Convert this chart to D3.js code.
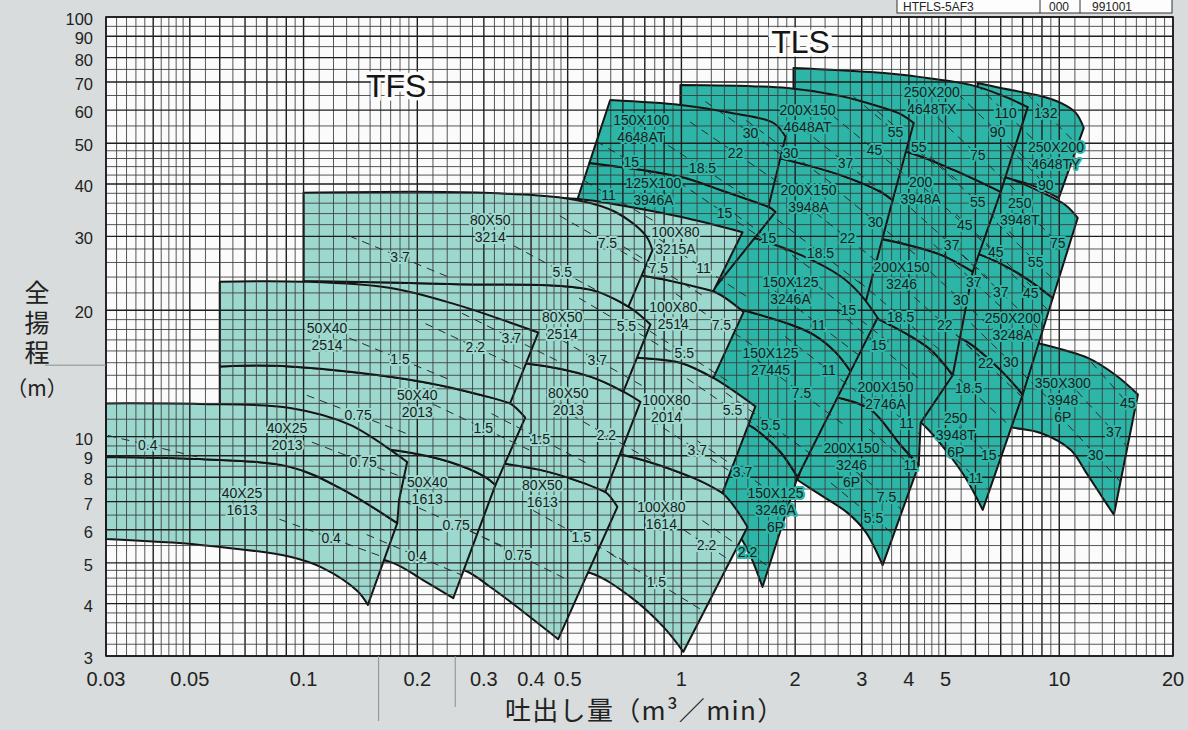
<!DOCTYPE html>
<html><head><meta charset="utf-8">
<script src="https://cdn.jsdelivr.net/npm/d3@7"></script>
<style>
body{margin:0;background:#d8dcdc;}
svg{display:block;font-family:"Liberation Sans",Arial,sans-serif;}
</style></head><body>
<svg id="c" width="1188" height="730"></svg>
<script>
// ---------- DATA ----------
const xTicks = [0.03,0.05,0.1,0.2,0.3,0.4,0.5,1,2,3,4,5,10,20];
const yTicks = [3,4,5,6,7,8,9,10,20,30,40,50,60,70,80,90,100];

// TLS pump regions (back to front). Each: top curve, right edge, bottom curve; points are [flow m3/min, head m]
const tlsRegions = [
 {name:'350X300 3948 6P', top:[[6.998,17.5],[8.56,16.8],[11.90,15.4],[14.12,14.0],[16.15,12.6]], right:[[16.15,12.6],[13.95,6.51]], bottom:[[6.998,10.66],[7.576,10.5],[8.933,10.2],[10.73,9.29],[11.76,8.23],[12.88,7.26],[13.95,6.51]]},
 {name:'250X200 4648TY', top:[[6.083,69.6],[6.998,67.7],[8.933,64.8],[10.09,62.4],[11.06,59.1],[11.61,54.4]], right:[[11.61,54.4],[9.97,37.0]], bottom:[[6.083,42.7],[6.998,41.6],[8.405,39.8],[9.97,37.0]]},
 {name:'250 3948T 6P', top:[[5.16,17.5],[5.724,16.8],[6.998,14.4],[8.004,12.6]], right:[[8.004,12.6],[6.272,6.69]], bottom:[[4.043,11.26],[4.378,10.66],[5.005,9.29],[5.654,7.97],[6.272,6.69]]},
 {name:'250X200 3248A', top:[[5.484,27.8],[6.196,27.1],[7.907,24.3],[9.612,21.4]], right:[[9.612,21.4],[8.004,12.6]], bottom:[[5.16,17.5],[5.724,16.8],[6.998,14.4],[8.004,12.6]]},
 {name:'250 3948T', top:[[5.484,43.2],[7.128,41.6],[8.933,38.3],[10.40,35.6],[11.19,33.2]], right:[[11.19,33.2],[9.612,21.4]], bottom:[[5.484,27.8],[6.196,27.1],[7.907,24.3],[9.612,21.4]]},
 {name:'250X200 3948A', top:[[1.98,53.8],[2.804,50.9],[4.043,47.4],[5.255,43.2],[6.998,38.3]], right:[[6.998,38.3],[5.901,24.7]], bottom:[[1.98,30.7],[3.167,29.9],[3.803,28.9],[4.855,27.1],[5.901,24.7]]},
 {name:'250X200 4648TX', top:[[1.98,75.6],[3.167,73.9],[4.298,71.9],[5.83,68.9],[6.998,65.2],[8.252,61.0]], right:[[8.252,61.0],[6.998,38.3]], bottom:[[1.98,53.8],[2.804,50.9],[4.043,47.4],[5.255,43.2],[6.998,38.3]]},
 {name:'200X150 3246 6P', top:[[2.4,12.6],[2.59,12.4],[3.167,11.6],[3.803,9.55],[4.246,8.56]], right:[[4.246,8.56],[3.408,4.94]], bottom:[[2.029,7.88],[2.334,7.26],[2.753,6.58],[3.072,5.93],[3.408,4.94]]},
 {name:'200X150 2746A', top:[[2.9,20.5],[3.167,19.5],[3.803,17.9],[4.568,16.1],[5.224,14.0]], right:[[5.224,14.0],[4.298,10.8],[4.246,8.56]], bottom:[[2.4,12.6],[2.59,12.4],[3.167,11.6],[3.803,9.55],[4.246,8.56]]},
 {name:'200X150 3246', top:[[2.9,30.6],[3.167,29.9],[3.803,28.9],[4.855,27.1],[5.901,24.7]], right:[[5.901,24.7],[5.224,14.0]], bottom:[[2.9,20.5],[3.167,19.5],[3.803,17.9],[4.568,16.1],[5.224,14.0]]},
 {name:'200X150 3948A', top:[[0.994,50.9],[1.433,48.2],[1.909,45.6],[2.638,42.0],[3.367,38.3],[3.622,36.6]], right:[[3.622,36.6],[3.072,20.9]], bottom:[[0.994,24.0],[1.433,25.0],[2.067,25.0],[2.6,23.5],[3.072,20.9]]},
 {name:'200X150 4648AT', top:[[0.994,68.9],[1.909,67.7],[2.638,64.8],[3.367,61.0],[3.803,58.7],[4.119,55.9]], right:[[4.119,55.9],[3.622,36.6]], bottom:[[0.994,50.9],[1.433,48.2],[1.909,45.6],[2.638,42.0],[3.367,38.3],[3.622,36.6]]},
 {name:'150X125 3246A 6P', top:[[1.123,11.6],[1.505,10.66],[1.619,10.2],[1.829,9.19],[2.029,8.01]], right:[[2.029,8.01],[1.639,4.38]], bottom:[[1.123,6.51],[1.39,5.93],[1.505,5.31],[1.639,4.38]]},
 {name:'150X125 27445', top:[[1.123,21.2],[1.46,20.0],[1.944,18.5],[2.237,17.5],[2.558,15.9],[2.804,14.3]], right:[[2.804,14.3],[2.029,8.01]], bottom:[[1.123,11.6],[1.505,10.66],[1.619,10.2],[1.829,9.19],[2.029,8.01]]},
 {name:'150X125 3246A', top:[[1.123,31.4],[1.523,29.9],[2.067,27.1],[2.638,24.1],[2.98,21.8],[3.305,19.2]], right:[[3.305,19.2],[2.804,14.3]], bottom:[[1.123,21.2],[1.46,20.0],[1.944,18.5],[2.237,17.5],[2.558,15.9],[2.804,14.3]]},
 {name:'125X100 3946A', top:[[0.571,44.9],[0.994,41.6],[1.268,38.7],[1.70,35.3],[1.774,34.3]], right:[[1.774,34.3],[1.215,22.4]], bottom:[[0.53,36.6],[0.733,33.7],[0.994,27.8],[1.215,22.4]]},
 {name:'150X100 4648AT', top:[[0.648,63.4],[0.994,61.7],[1.348,59.1],[1.753,55.9],[1.886,51.8]], right:[[1.886,51.8],[1.70,35.3]], bottom:[[0.571,44.9],[0.994,41.6],[1.268,38.7],[1.70,35.3]]}
];

// TFS pump regions (back to front)
const tfsRegions = [
 {name:'100X80 1614', top:[[0.293,9.55],[0.66,9.14],[1.076,7.97],[1.284,7.34],[1.496,6.09]], right:[[1.496,6.09],[1.012,3.07]], bottom:[[0.293,4.94],[0.423,4.86],[0.574,4.73],[0.733,4.15],[0.896,3.52],[1.012,3.07]]},
 {name:'100X80 2014', top:[[0.293,15.9],[0.779,15.4],[0.994,15.0],[1.215,13.8],[1.57,11.8]], right:[[1.57,11.8],[1.284,7.34]], bottom:[[0.293,9.55],[0.66,9.14],[1.076,7.97],[1.284,7.34]]},
 {name:'100X80 2514', top:[[0.293,24.9],[0.61,24.7],[0.828,24.0],[1.215,22.2],[1.46,19.8]], right:[[1.46,19.8],[1.215,13.8]], bottom:[[0.293,15.9],[0.779,15.4],[0.994,15.0],[1.215,13.8]]},
 {name:'100X80 3215A', top:[[0.293,37.0],[0.54,36.8],[0.689,35.6],[0.994,33.4],[1.451,30.7]], right:[[1.451,30.7],[1.215,22.2]], bottom:[[0.293,24.9],[0.61,24.7],[0.828,24.0],[1.215,22.2]]},
 {name:'80X50 1613', top:[[0.1,9.04],[0.244,8.89],[0.423,8.33],[0.54,7.80],[0.629,7.38],[0.677,6.80]], right:[[0.677,6.80],[0.472,3.29]], bottom:[[0.1,5.22],[0.18,5.03],[0.265,4.81],[0.312,4.38],[0.382,3.82],[0.472,3.29]]},
 {name:'80X50 2013', top:[[0.1,15.2],[0.244,15.1],[0.398,14.9],[0.574,13.9],[0.702,12.8],[0.779,12.1]], right:[[0.779,12.1],[0.629,7.38]], bottom:[[0.1,9.04],[0.244,8.89],[0.423,8.33],[0.54,7.80],[0.629,7.38]]},
 {name:'80X50 2514', top:[[0.1,23.5],[0.244,23.1],[0.574,22.4],[0.724,20.4],[0.828,18.5]], right:[[0.828,18.5],[0.702,12.8]], bottom:[[0.1,15.2],[0.244,15.1],[0.398,14.9],[0.574,13.9],[0.702,12.8]]},
 {name:'80X50 3214', top:[[0.1,38.1],[0.299,38.1],[0.53,36.6],[0.669,34.3],[0.803,30.2],[0.838,27.8]], right:[[0.838,27.8],[0.724,20.4]], bottom:[[0.1,23.5],[0.244,23.1],[0.574,22.4],[0.724,20.4]]},
 {name:'50X40 1613', top:[[0.06,9.71],[0.1175,9.55],[0.18,9.24],[0.244,8.70],[0.3,8.05],[0.322,7.67]], right:[[0.322,7.67],[0.249,4.12]], bottom:[[0.06,5.52],[0.098,5.43],[0.1695,5.03],[0.207,4.55],[0.249,4.12]]},
 {name:'50X40 2013', top:[[0.06,14.7],[0.092,14.7],[0.207,13.5],[0.312,12.4],[0.352,12.0],[0.386,11.1]], right:[[0.386,11.1],[0.322,7.67]], bottom:[[0.06,9.71],[0.1175,9.55],[0.18,9.24],[0.244,8.70],[0.3,8.05],[0.322,7.67]]},
 {name:'50X40 2514', top:[[0.06,23.4],[0.1,23.4],[0.17,22.6],[0.255,20.6],[0.346,18.8],[0.418,17.7]], right:[[0.418,17.7],[0.352,12.0]], bottom:[[0.06,14.7],[0.092,14.7],[0.207,13.5],[0.312,12.4],[0.352,12.0]]},
 {name:'40X25 1613', top:[[0.03,8.94],[0.0532,8.84],[0.0921,8.47],[0.125,7.54],[0.177,6.22]], right:[[0.177,6.22],[0.148,3.97]], bottom:[[0.03,5.70],[0.0532,5.52],[0.0921,5.17],[0.1126,4.86],[0.1386,4.29],[0.148,3.97]]},
 {name:'40X25 2013', top:[[0.03,12.0],[0.0532,11.96],[0.0921,11.7],[0.1328,10.66],[0.188,8.70]], right:[[0.188,8.70],[0.179,7.06],[0.177,6.22]], bottom:[[0.03,8.94],[0.0532,8.84],[0.0921,8.47],[0.125,7.54],[0.177,6.22]]}
];

// model labels: [flow, head, lines, series]
const modelLabels = [
 [0.0904,10.48,['40X25','2013'],'f'],[0.0687,7.34,['40X25','1613'],'f'],
 [0.1154,18.15,['50X40','2514'],'f'],[0.1999,12.56,['50X40','2013'],'f'],[0.2124,7.80,['50X40','1613'],'f'],
 [0.3119,32.8,['80X50','3214'],'f'],[0.4838,19.3,['80X50','2514'],'f'],[0.502,12.7,['80X50','2013'],'f'],[0.4284,7.67,['80X50','1613'],'f'],
 [0.964,30.8,['100X80','3215A'],'f'],[0.952,20.4,['100X80','2514'],'f'],[0.913,12.2,['100X80','2014'],'f'],[0.885,6.80,['100X80','1614'],'f'],
 [0.783,56.8,['150X100','4648AT'],'l'],[0.843,40.2,['125X100','3946A'],'l'],
 [2.157,60.0,['200X150','4648AT'],'l'],[2.17,38.7,['200X150','3948A'],'l'],
 [1.944,23.4,['150X125','3246A'],'l'],[1.721,15.8,['150X125','27445'],'l'],[1.774,7.34,['150X125','3246A','6P'],'l'],
 [3.826,25.4,['200X150','3246'],'l'],[3.47,13.13,['200X150','2746A'],'l'],[2.82,9.39,['200X150','3246','6P'],'l'],
 [4.60,66.3,['250X200','4648TX'],'l'],[4.298,40.5,['200','3948A'],'l'],[7.86,36.0,['250','3948T'],'l'],
 [9.80,49.0,['250X200','4648TY'],'l'],[7.53,19.2,['250X200','3248A'],'l'],[5.32,11.1,['250','3948T','6P'],'l'],
 [10.22,13.42,['350X300','3948','6P'],'l']
];

// motor kW labels: [flow, head, text, series]
const kwLabels = [
 [0.0387,9.55,'0.4','f'],[0.1394,11.26,'0.75','f'],[0.1438,8.70,'0.75','f'],[0.18,15.3,'1.5','f'],[0.18,26.8,'3.7','f'],
 [0.4838,24.7,'5.5','f'],[0.2846,16.35,'2.2','f'],[0.3545,17.2,'3.7','f'],[0.2989,10.48,'1.5','f'],[0.4231,9.87,'1.5','f'],
 [0.1183,5.73,'0.4','f'],[0.2535,6.16,'0.75','f'],[0.1999,5.19,'0.4','f'],[0.370,5.22,'0.75','f'],[0.5435,5.76,'1.5','f'],
 [0.637,28.9,'7.5','f'],[0.869,25.2,'7.5','f'],[1.144,25.2,'11','f'],[0.715,18.35,'5.5','f'],[1.276,18.5,'7.5','f'],
 [0.599,15.2,'3.7','f'],[1.018,15.8,'5.5','f'],[1.365,11.6,'5.5','f'],[0.633,10.09,'2.2','f'],[1.102,9.29,'3.7','f'],
 [1.165,5.52,'2.2','f'],[0.8587,4.50,'1.5','f'],
 [1.496,5.31,'2.2','l'],[1.451,8.23,'3.7','l'],[1.721,10.66,'5.5','l'],[2.079,12.7,'7.5','l'],[2.452,14.4,'11','l'],
 [2.307,18.5,'11','l'],[2.770,20.0,'15','l'],[2.334,27.4,'18.5','l'],[1.70,29.7,'15','l'],[2.753,29.7,'22','l'],
 [1.300,34.1,'15','l'],[0.641,37.7,'11','l'],[0.737,45.1,'15','l'],[1.137,43.7,'18.5','l'],[1.39,47.4,'22','l'],
 [1.523,52.9,'30','l'],[1.944,47.4,'30','l'],[2.720,44.9,'37','l'],[3.245,48.2,'45','l'],[3.265,32.5,'30','l'],
 [3.688,53.2,'55','l'],[4.246,49.0,'55','l'],[7.216,59.1,'110','l'],[9.21,59.1,'132','l'],[6.87,53.2,'90','l'],
 [6.083,46.9,'75','l'],[9.21,39.8,'90','l'],[6.083,36.2,'55','l'],[5.62,31.9,'45','l'],[5.19,28.6,'37','l'],
 [9.909,28.9,'75','l'],[6.79,27.5,'45','l'],[8.66,26.1,'55','l'],[5.94,23.4,'37','l'],[6.998,22.1,'37','l'],
 [8.405,22.0,'45','l'],[5.484,21.2,'30','l'],[3.803,19.3,'18.5','l'],[4.976,18.5,'22','l'],[3.325,16.5,'15','l'],
 [6.39,15.0,'22','l'],[7.44,15.05,'30','l'],[5.76,13.06,'18.5','l'],[15.19,12.0,'45','l'],[13.95,10.26,'37','l'],
 [12.49,9.04,'30','l'],[3.945,10.77,'11','l'],[6.51,9.04,'15','l'],[4.043,8.56,'11','l'],[6.01,7.97,'11','l'],
 [3.49,7.18,'7.5','l'],[3.225,6.40,'5.5','l']
];

const seriesNames = [[0.1758,68.5,'TFS'],[2.067,87.2,'TLS']];
const docCode = ['HTFLS-5AF3','000','991001'];

// ---------- DRAW ----------
const TFS_FILL = '#9dd8ce', TLS_FILL = '#2db6a7';
const X = d3.scaleLog().domain([0.03,20]).range([106,1173]);
const Y = d3.scaleLog().domain([3,100]).range([656,17]);
const svg = d3.select('#c');

svg.append('rect').attr('width',1188).attr('height',730).attr('fill','#d8dcdc');
svg.append('rect').attr('x',X(0.03)).attr('y',Y(100)).attr('width',X(20)-X(0.03)).attr('height',Y(3)-Y(100)).attr('fill','#fbfbfb');

const curveGen = d3.line().x(d=>X(d[0])).y(d=>Y(d[1])).curve(d3.curveCatmullRom.alpha(0.5));
const linGen = d3.line().x(d=>X(d[0])).y(d=>Y(d[1]));
function regionPath(r){
  const t = curveGen(r.top);
  const rt = linGen(r.right).replace(/^M/,'L');
  const b = curveGen(r.bottom.slice().reverse()).replace(/^M/,'L');
  return t + rt + b + 'Z';
}

const defs = svg.append('defs');
const clip = defs.append('clipPath').attr('id','regclip');
tlsRegions.concat(tfsRegions).forEach(r=>clip.append('path').attr('d',regionPath(r)));

const gR = svg.append('g');
tlsRegions.forEach(r=>gR.append('path').attr('d',regionPath(r)).attr('fill',TLS_FILL)
  .attr('stroke','#141414').attr('stroke-width',2).attr('stroke-linejoin','round'));
tfsRegions.forEach(r=>gR.append('path').attr('d',regionPath(r)).attr('fill',TFS_FILL)
  .attr('stroke','#141414').attr('stroke-width',2).attr('stroke-linejoin','round'));

// grid
const mant = [1,1.1,1.2,1.3,1.4,1.5,1.6,1.7,1.8,1.9,2,2.2,2.4,2.6,2.8,3,3.2,3.4,3.6,3.8,4,4.2,4.4,4.6,4.8,5,5.5,6,6.5,7,7.5,8,8.5,9,9.5];
function gridVals(lo,hi){
  const out=[];
  for(let e=-3;e<=3;e++) for(const m of mant){
    const v=+(m*Math.pow(10,e)).toPrecision(6);
    if(v>=lo*0.9999 && v<=hi*1.0001) out.push({v,major:Number.isInteger(m)});
  }
  return out;
}
const gG = svg.append('g');
gridVals(0.03,20).forEach(g=>gG.append('line').attr('x1',X(g.v)).attr('x2',X(g.v)).attr('y1',Y(100)).attr('y2',Y(3))
  .attr('stroke',g.major?'#1e1e1e':'#3a3a3a').attr('stroke-width',g.major?1.4:0.85));
gridVals(3,100).forEach(g=>gG.append('line').attr('y1',Y(g.v)).attr('y2',Y(g.v)).attr('x1',X(0.03)).attr('x2',X(20))
  .attr('stroke',g.major?'#1e1e1e':'#3a3a3a').attr('stroke-width',g.major?1.4:0.85));
svg.append('rect').attr('x',X(0.03)).attr('y',Y(100)).attr('width',X(20)-X(0.03)).attr('height',Y(3)-Y(100))
  .attr('fill','none').attr('stroke','#1a1a1a').attr('stroke-width',1.6);

// dashed motor-power lines
const gD = svg.append('g').attr('clip-path','url(#regclip)');
kwLabels.forEach(k=>{
  const cx=X(k[0]), cy=Y(k[1]);
  const a=(12+38*(cx-106)/1067)*Math.PI/180, L=55;
  gD.append('line').attr('x1',cx-L*Math.cos(a)).attr('y1',cy-L*Math.sin(a))
    .attr('x2',cx+L*Math.cos(a)).attr('y2',cy+L*Math.sin(a))
    .attr('stroke','#2a2a2a').attr('stroke-width',1).attr('stroke-dasharray','8,6');
});

// labels
function halo(sel,col){ return sel.attr('stroke',col).attr('stroke-width',4).attr('stroke-linejoin','round').attr('paint-order','stroke'); }
const gL = svg.append('g').attr('font-size',14).attr('fill','#1c1c1c').attr('text-anchor','middle');
kwLabels.forEach(k=>{
  halo(gL.append('text').attr('x',X(k[0])).attr('y',Y(k[1])).attr('dy','0.36em').text(k[2]), k[3]==='f'?TFS_FILL:TLS_FILL);
});
modelLabels.forEach(m=>{
  m[2].forEach((s,i)=>{
    halo(gL.append('text').attr('x',X(m[0])).attr('y',Y(m[1])+i*17).attr('dy','0.36em').text(s), m[3]==='f'?TFS_FILL:TLS_FILL);
  });
});
seriesNames.forEach(s=>{
  svg.append('text').attr('x',X(s[0])).attr('y',Y(s[1])).attr('dy','0.36em').attr('text-anchor','middle')
    .attr('font-size',32).attr('fill','#151515').attr('stroke','#fbfbfb').attr('stroke-width',7).attr('paint-order','stroke').text(s[2]);
});

// axes tick labels
const gT = svg.append('g').attr('fill','#222');
yTicks.forEach(v=>gT.append('text').attr('x',93).attr('y',Y(v)+8).attr('font-size',16.5).attr('text-anchor','end').text(v));
xTicks.forEach(v=>gT.append('text').attr('x',X(v)).attr('y',686).attr('font-size',20).attr('text-anchor','middle').text(String(v)));

// axis titles
const cjk = '"Noto Sans CJK JP","Noto Sans CJK SC",sans-serif';
svg.append('text').attr('x',37).attr('y',280).attr('font-family',cjk).attr('font-size',25).attr('fill','#222')
  .style('writing-mode','vertical-rl').attr('letter-spacing',5).text('全揚程');
svg.append('text').attr('x',37).attr('y',396).attr('font-family',cjk).attr('font-size',21).attr('fill','#222')
  .attr('text-anchor','middle').text('（m）');
svg.append('text').attr('x',505).attr('y',720).attr('font-family',cjk).attr('font-size',26).attr('letter-spacing',1.3)
  .attr('fill','#222').text('吐出し量（m³／min）');

// scan marks
const gS = svg.append('g').attr('stroke','#8a8f8f').attr('stroke-width',1);
gS.append('line').attr('x1',45).attr('x2',X(0.03)).attr('y1',Y(14.8)).attr('y2',Y(14.8));
gS.append('line').attr('x1',X(0.158)).attr('x2',X(0.158)).attr('y1',Y(3)).attr('y2',721);
gS.append('line').attr('x1',X(0.252)).attr('x2',X(0.252)).attr('y1',Y(3)).attr('y2',707);

// document code box
const bx = svg.append('g');
bx.append('rect').attr('x',897).attr('y',-1).attr('width',275).attr('height',14).attr('fill','#fdfdfd').attr('stroke','#333').attr('stroke-width',1);
bx.append('line').attr('x1',1040).attr('x2',1040).attr('y1',-1).attr('y2',13).attr('stroke','#333');
bx.append('line').attr('x1',1080).attr('x2',1080).attr('y1',-1).attr('y2',13).attr('stroke','#333');
const bt = bx.append('g').attr('font-size',12).attr('fill','#222');
bt.append('text').attr('x',903).attr('y',11).text(docCode[0]);
bt.append('text').attr('x',1049).attr('y',11).text(docCode[1]);
bt.append('text').attr('x',1092).attr('y',11).text(docCode[2]);
</script>
</body></html>
